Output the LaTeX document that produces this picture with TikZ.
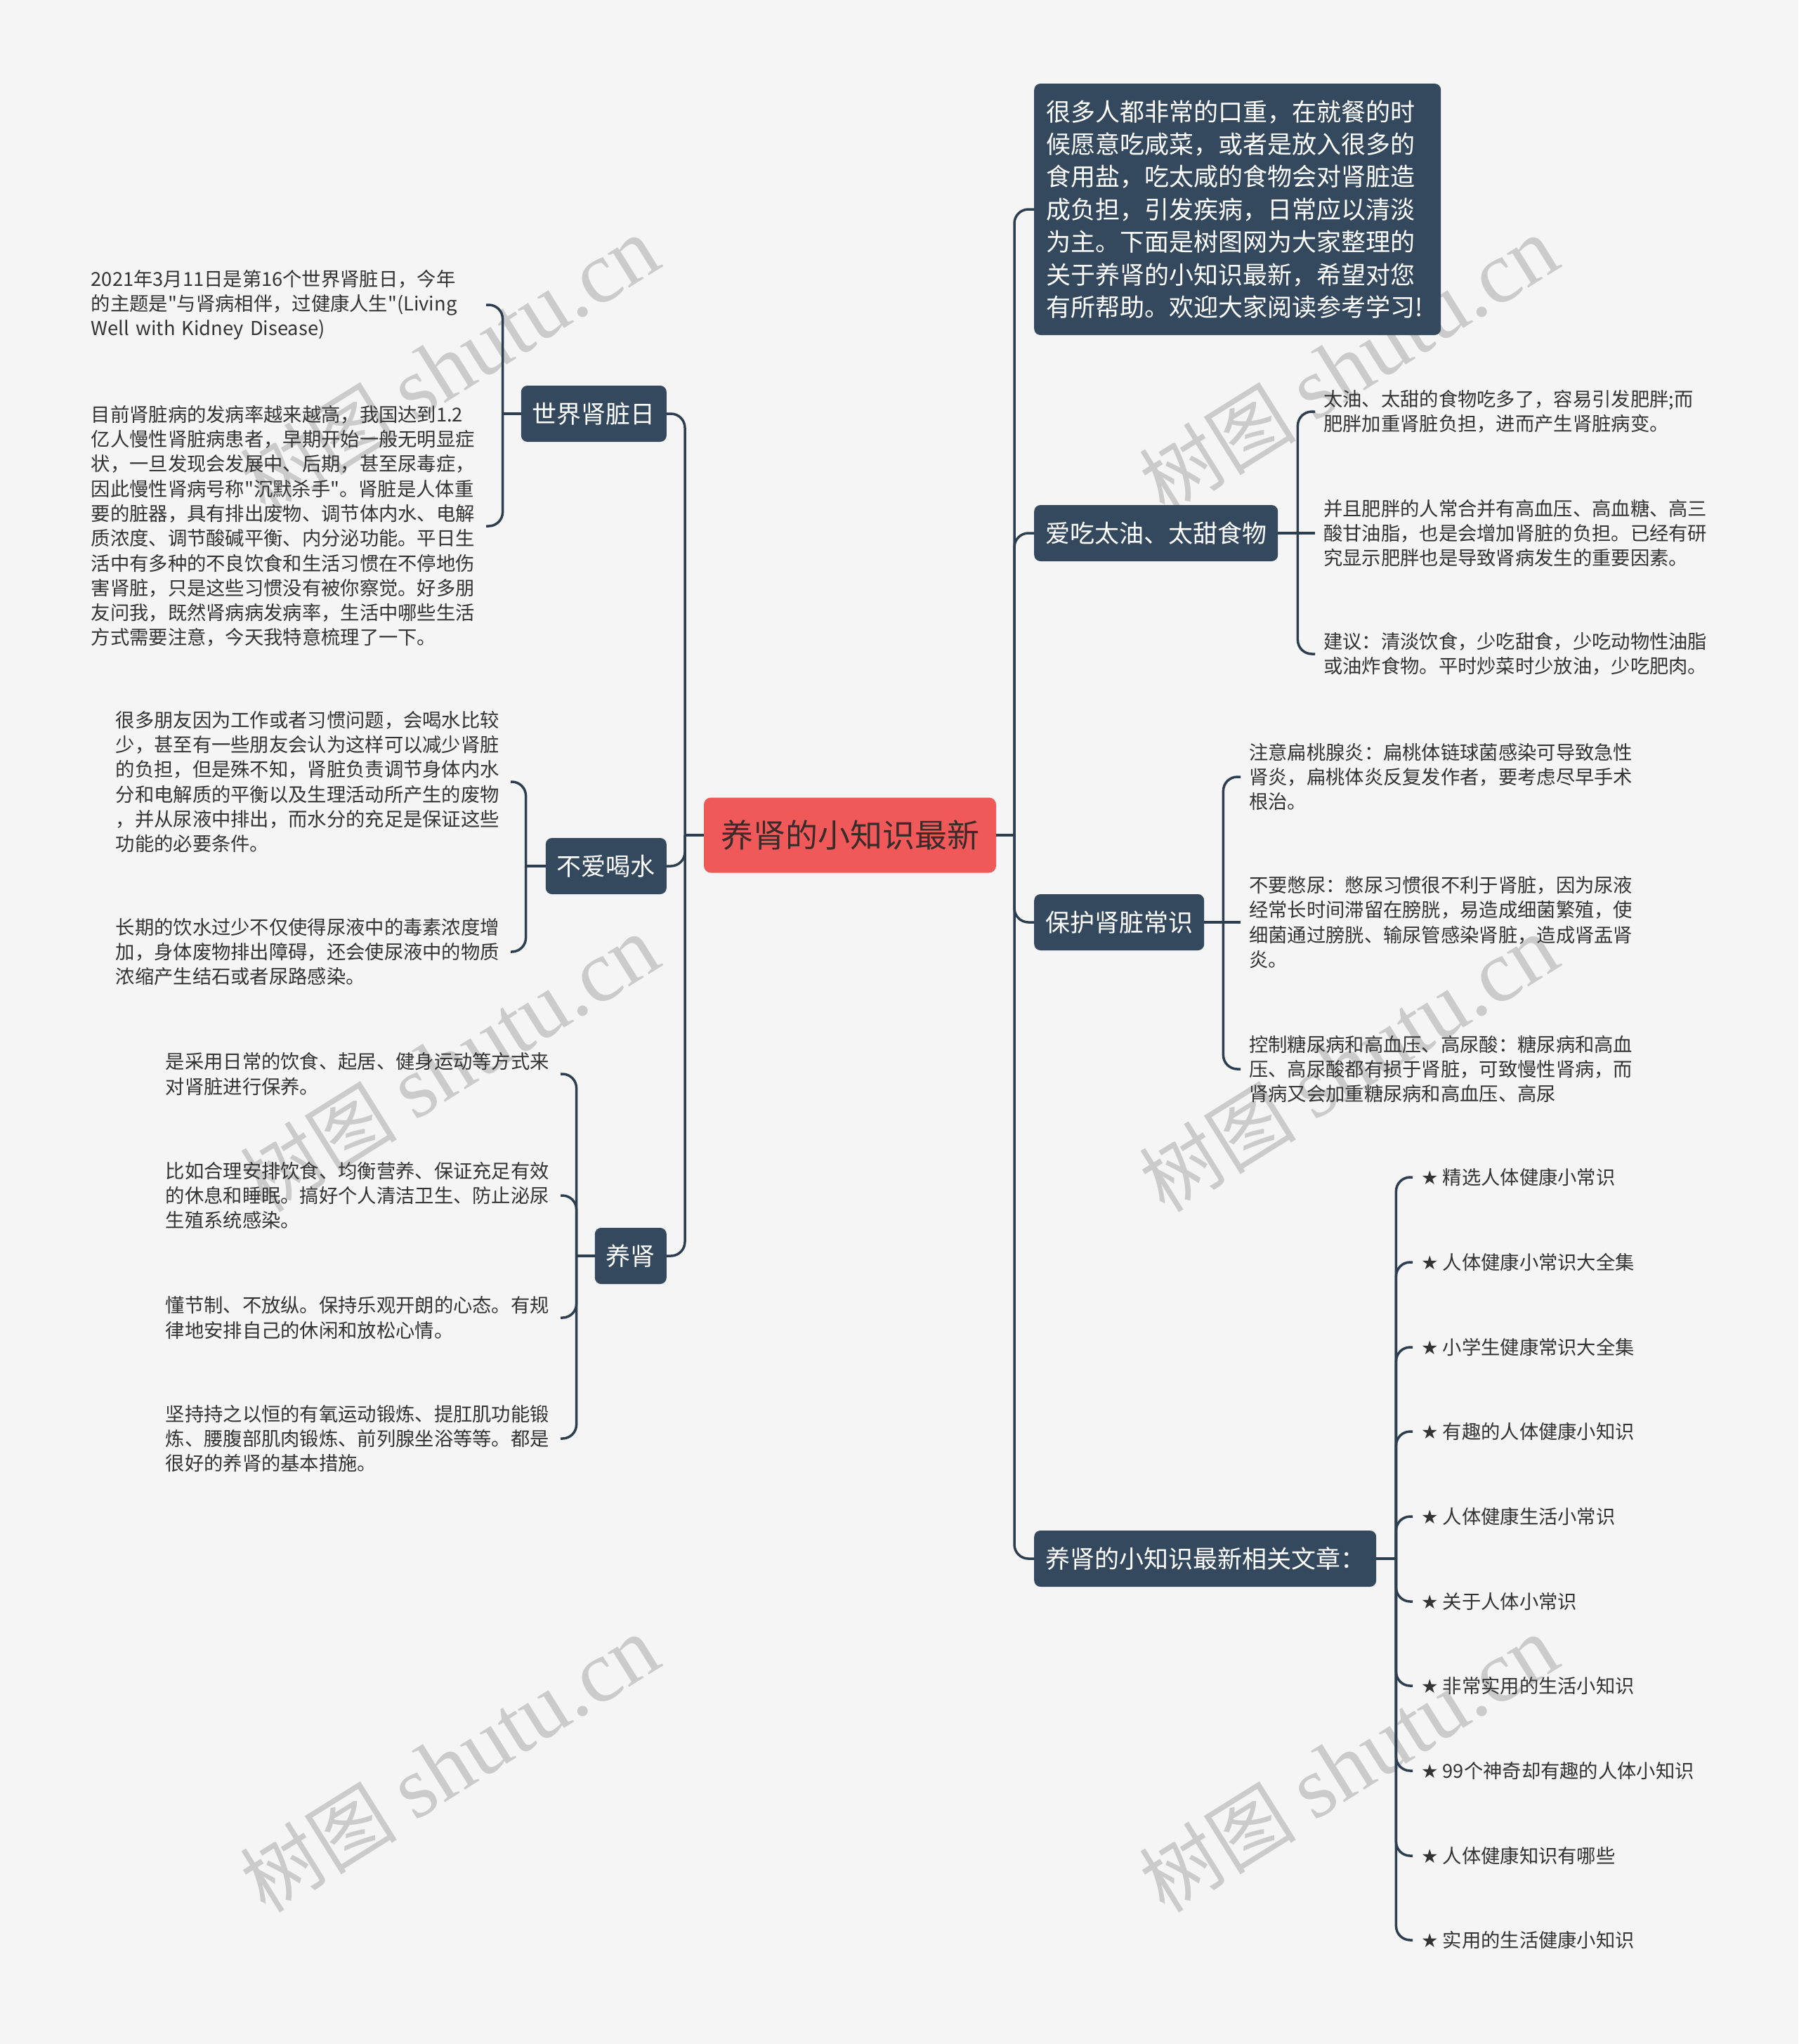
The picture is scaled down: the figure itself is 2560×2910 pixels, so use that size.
\documentclass[tikz,border=0pt]{standalone}
\usepackage{fontspec}
\setmainfont{Noto Sans CJK SC}[Ligatures=TeXOff]
\newfontfamily\wmserif{Liberation Serif}
\newfontfamily\symfont{DejaVu Sans}
\definecolor{bgc}{HTML}{F5F5F5}
\definecolor{navy}{HTML}{34495E}
\definecolor{linec}{HTML}{2C3E50}
\definecolor{rootred}{HTML}{EF5959}
\definecolor{roottxt}{HTML}{3A2B2B}
\definecolor{bodyc}{HTML}{333333}
\definecolor{wmc}{HTML}{CBCBCB}
\newcommand{\st}{{\symfont ★}\ }
\tikzset{
  rootbox/.style={fill=rootred, rounded corners=10pt, inner xsep=24pt, inner ysep=0pt, minimum height=107pt, text=roottxt, font=\fontsize{46}{52}\selectfont},
  branchbox/.style={fill=navy, rounded corners=9pt, inner xsep=16pt, inner ysep=0pt, minimum height=80pt, text=white, font=\fontsize{35}{42}\selectfont},
  introbox/.style={fill=navy, rounded corners=9pt, inner xsep=17pt, inner ysep=0pt, minimum height=358pt, text width=545pt, align=left, text=white, font=\fontsize{35}{46.4}\selectfont},
  leafbox/.style={text=bodyc, align=left, text width=550pt, inner xsep=12pt, inner ysep=4pt, font=\fontsize{27.3}{35.3}\selectfont},
  artbox/.style={text=bodyc, inner xsep=12pt, inner ysep=4pt, font=\fontsize{27.3}{35.3}\selectfont},
  conn/.style={draw=linec, line width=3.5pt, rounded corners=20pt},
  wmark/.style={text=wmc, rotate=32, font=\fontsize{112}{112}\selectfont}
}
\begin{document}
\begin{tikzpicture}[x=1pt,y=-1pt]
\useasboundingbox (0,0) rectangle (2560,2910);
\fill[bgc] (0,0) rectangle (2560,2910);

% watermarks
\foreach \wx/\wy [count=\i] in {640/520,1920/520,640/1515,1920/1515,640/2512,1920/2512}
  \node[wmark] (wm\i) at (\wx,\wy) {树图 {\wmserif\fontsize{125}{125}\selectfont shutu.cn}};

% root
\node[rootbox] (root) at (1210,1189) {养肾的小知识最新};
\coordinate (rt) at (1444,1189);
\coordinate (lt) at (975,1189);

% right branches
\node[introbox, anchor=west] (intro) at (1472,298) {很多人都非常的口重，在就餐的时\\候愿意吃咸菜，或者是放入很多的\\食用盐，吃太咸的食物会对肾脏造\\成负担，引发疾病，日常应以清淡\\为主。下面是树图网为大家整理的\\关于养肾的小知识最新，希望对您\\有所帮助。欢迎大家阅读参考学习!};
\node[branchbox, anchor=west] (b1) at (1472,759) {爱吃太油、太甜食物};
\node[branchbox, anchor=west] (b2) at (1472,1313) {保护肾脏常识};
\node[branchbox, anchor=west] (b3) at (1472,2219) {养肾的小知识最新相关文章：};

% left branches
\node[branchbox, anchor=east] (l1) at (949,589) {世界肾脏日};
\node[branchbox, anchor=east] (l2) at (949,1233) {不爱喝水};
\node[branchbox, anchor=east] (l3) at (949,1788) {养肾};

% leaves of b1
\node[leafbox, anchor=west] (a1) at (1872,586) {太油、太甜的食物吃多了，容易引发肥胖;而\\肥胖加重肾脏负担，进而产生肾脏病变。};
\node[leafbox, anchor=west] (a2) at (1872,759) {并且肥胖的人常合并有高血压、高血糖、高三\\酸甘油脂，也是会增加肾脏的负担。已经有研\\究显示肥胖也是导致肾病发生的重要因素。};
\node[leafbox, anchor=west] (a3) at (1872,931) {建议：清淡饮食，少吃甜食，少吃动物性油脂\\或油炸食物。平时炒菜时少放油，少吃肥肉。};

% leaves of b2
\node[leafbox, anchor=west] (p1) at (1766,1106) {注意扁桃腺炎：扁桃体链球菌感染可导致急性\\肾炎，扁桃体炎反复发作者，要考虑尽早手术\\根治。};
\node[leafbox, anchor=west] (p2) at (1766,1313) {不要憋尿：憋尿习惯很不利于肾脏，因为尿液\\经常长时间滞留在膀胱，易造成细菌繁殖，使\\细菌通过膀胱、输尿管感染肾脏，造成肾盂肾\\炎。};
\node[leafbox, anchor=west] (p3) at (1766,1522) {控制糖尿病和高血压、高尿酸：糖尿病和高血\\压、高尿酸都有损于肾脏，可致慢性肾病，而\\肾病又会加重糖尿病和高血压、高尿};

% articles
\node[artbox, anchor=west] (r1) at (2011,1676) {\st 精选人体健康小常识};
\node[artbox, anchor=west] (r2) at (2011,1797) {\st 人体健康小常识大全集};
\node[artbox, anchor=west] (r3) at (2011,1918) {\st 小学生健康常识大全集};
\node[artbox, anchor=west] (r4) at (2011,2038) {\st 有趣的人体健康小知识};
\node[artbox, anchor=west] (r5) at (2011,2159) {\st 人体健康生活小常识};
\node[artbox, anchor=west] (r6) at (2011,2280) {\st 关于人体小常识};
\node[artbox, anchor=west] (r7) at (2011,2400) {\st 非常实用的生活小知识};
\node[artbox, anchor=west] (r8) at (2011,2521) {\st 99个神奇却有趣的人体小知识};
\node[artbox, anchor=west] (r9) at (2011,2642) {\st 人体健康知识有哪些};
\node[artbox, anchor=west] (r10) at (2011,2762) {\st 实用的生活健康小知识};

% leaves of l1
\node[leafbox, anchor=east] (w1) at (692,434) {2021年3月11日是第16个世界肾脏日，今年\\的主题是"与肾病相伴，过健康人生"(Living\\Well with Kidney Disease)};
\node[leafbox, anchor=east] (w2) at (692,749) {目前肾脏病的发病率越来越高，我国达到1.2\\亿人慢性肾脏病患者，早期开始一般无明显症\\状，一旦发现会发展中、后期，甚至尿毒症，\\因此慢性肾病号称"沉默杀手"。肾脏是人体重\\要的脏器，具有排出废物、调节体内水、电解\\质浓度、调节酸碱平衡、内分泌功能。平日生\\活中有多种的不良饮食和生活习惯在不停地伤\\害肾脏，只是这些习惯没有被你察觉。好多朋\\友问我，既然肾病病发病率，生活中哪些生活\\方式需要注意，今天我特意梳理了一下。};

% leaves of l2
\node[leafbox, anchor=east] (n1) at (727,1113) {很多朋友因为工作或者习惯问题，会喝水比较\\少，甚至有一些朋友会认为这样可以减少肾脏\\的负担，但是殊不知，肾脏负责调节身体内水\\分和电解质的平衡以及生理活动所产生的废物\\，并从尿液中排出，而水分的充足是保证这些\\功能的必要条件。};
\node[leafbox, anchor=east] (n2) at (727,1355) {长期的饮水过少不仅使得尿液中的毒素浓度增\\加，身体废物排出障碍，还会使尿液中的物质\\浓缩产生结石或者尿路感染。};

% leaves of l3
\node[leafbox, anchor=east] (y1) at (798,1529) {是采用日常的饮食、起居、健身运动等方式来\\对肾脏进行保养。};
\node[leafbox, anchor=east] (y2) at (798,1702) {比如合理安排饮食、均衡营养、保证充足有效\\的休息和睡眠。搞好个人清洁卫生、防止泌尿\\生殖系统感染。};
\node[leafbox, anchor=east] (y3) at (798,1876) {懂节制、不放纵。保持乐观开朗的心态。有规\\律地安排自己的休闲和放松心情。};
\node[leafbox, anchor=east] (y4) at (798,2048) {坚持持之以恒的有氧运动锻炼、提肛肌功能锻\\炼、腰腹部肌肉锻炼、前列腺坐浴等等。都是\\很好的养肾的基本措施。};

% connectors: root to trunks
\draw[conn] (root.east) -- (rt);
\draw[conn] (root.west) -- (lt);
\draw[conn] (rt) |- (intro.west);
\draw[conn] (rt) |- (b1.west);
\draw[conn] (rt) |- (b2.west);
\draw[conn] (rt) |- (b3.west);
\draw[conn] (lt) |- (l1.east);
\draw[conn] (lt) |- (l2.east);
\draw[conn] (lt) |- (l3.east);

% sub-trunks
\draw[conn] (b1.east) -- ++(28,0) coordinate (s1);
\draw[conn] (s1) |- (a1.west);
\draw[conn] (s1) -- (a2.west);
\draw[conn] (s1) |- (a3.west);

\draw[conn] (b2.east) -- ++(27,0) coordinate (s2);
\draw[conn] (s2) |- (p1.west);
\draw[conn] (s2) -- (p2.west);
\draw[conn] (s2) |- (p3.west);

\draw[conn] (b3.east) -- ++(28,0) coordinate (s3);
\foreach \k in {1,...,10} \draw[conn] (s3) |- (r\k.west);

\draw[conn] (l1.west) -- ++(-26,0) coordinate (t1);
\draw[conn] (t1) |- (w1.east);
\draw[conn] (t1) |- (w2.east);

\draw[conn] (l2.west) -- ++(-28,0) coordinate (t2);
\draw[conn] (t2) |- (n1.east);
\draw[conn] (t2) |- (n2.east);

\draw[conn] (l3.west) -- ++(-26,0) coordinate (t3);
\foreach \k in {1,...,4} \draw[conn] (t3) |- (y\k.east);
\end{tikzpicture}
\end{document}
